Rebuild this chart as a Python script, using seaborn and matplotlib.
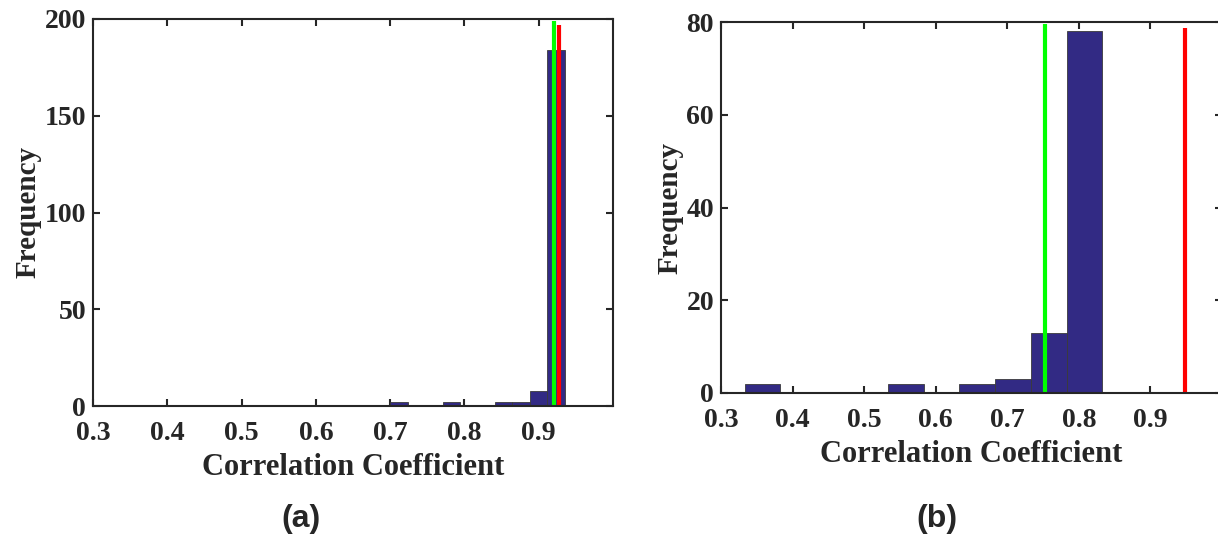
import matplotlib.pyplot as plt
import seaborn as sb
import pandas as pd
import numpy as np

# histogram (a): bin edges and counts
edges_a = [0.700, 0.7235, 0.747, 0.7705, 0.794, 0.8175, 0.841, 0.8645, 0.888, 0.9115, 0.935]
counts_a = [2, 0, 0, 2, 0, 0, 2, 2, 8, 184]
green_a = 0.921
red_a = 0.927

# histogram (b)
edges_b = [0.333, 0.383, 0.433, 0.483, 0.533, 0.583, 0.633, 0.683, 0.733, 0.783, 0.833]
counts_b = [2, 0, 0, 0, 2, 0, 2, 3, 13, 78]
green_b = 0.752
red_b = 0.948

x_ticks = [0.3, 0.4, 0.5, 0.6, 0.7, 0.8, 0.9]
y_ticks_a = [0, 50, 100, 150, 200]
y_ticks_b = [0, 20, 40, 60, 80]

sb.set_style('white')
plt.rcParams['font.family'] = ['Liberation Serif', 'DejaVu Serif']

bar_color = '#322a84'
tick_font = {'fontsize': 20, 'fontweight': 'bold'}


def panel(ax, edges, counts, green, red, y_ticks, letter, letter_x):
    e = np.array(edges)
    df = pd.DataFrame({'r': (e[:-1] + e[1:]) / 2, 'n': counts})
    sb.histplot(data=df, x='r', weights='n', bins=list(edges), ax=ax, color=bar_color,
                alpha=1, edgecolor='#3a3a3a', linewidth=0.6)
    top = y_ticks[-1]
    ax.plot([green, green], [0, top * 0.995], color='#00ff00', lw=3, solid_capstyle='butt')
    ax.plot([red, red], [0, top * 0.985], color='#ff0000', lw=3, solid_capstyle='butt')
    ax.set_xlim(0.3, 1.0)
    ax.set_ylim(0, top)
    ax.set_xticks(x_ticks)
    ax.set_yticks(y_ticks)
    ax.set_xticklabels([f'{t:.1f}' for t in x_ticks], **tick_font)
    ax.set_yticklabels([str(t) for t in y_ticks], **tick_font)
    ax.tick_params(direction='in', length=5, width=1.5, top=True, right=True,
                   bottom=True, left=True, color='#262626', labelcolor='#262626')
    ax.tick_params(axis='x', pad=11)
    ax.tick_params(axis='y', pad=5)
    for s in ax.spines.values():
        s.set_visible(True)
        s.set_linewidth(1.5)
        s.set_color('#262626')
    ax.set_xlabel('Correlation Coefficient', fontsize=22, fontweight='bold', color='#262626', labelpad=5)
    ax.set_ylabel('Frequency', fontsize=21, fontweight='bold', color='#262626', labelpad=2)
    ax.figure.text(letter_x, 1 - 519 / 538, letter, fontsize=23, fontweight='bold',
                   family='Liberation Sans', ha='center', va='center')


fig = plt.figure(figsize=(12.18, 5.38), dpi=100)
ax1 = fig.add_axes([93 / 1218, 1 - 406 / 538, 520 / 1218, 387 / 538])
ax2 = fig.add_axes([721 / 1218, 1 - 393 / 538, 501 / 1218, 371 / 538])

panel(ax1, edges_a, counts_a, green_a, red_a, y_ticks_a, '(a)', 301 / 1218)
panel(ax2, edges_b, counts_b, green_b, red_b, y_ticks_b, '(b)', 937 / 1218)

fig.savefig('out.png', dpi=100)
